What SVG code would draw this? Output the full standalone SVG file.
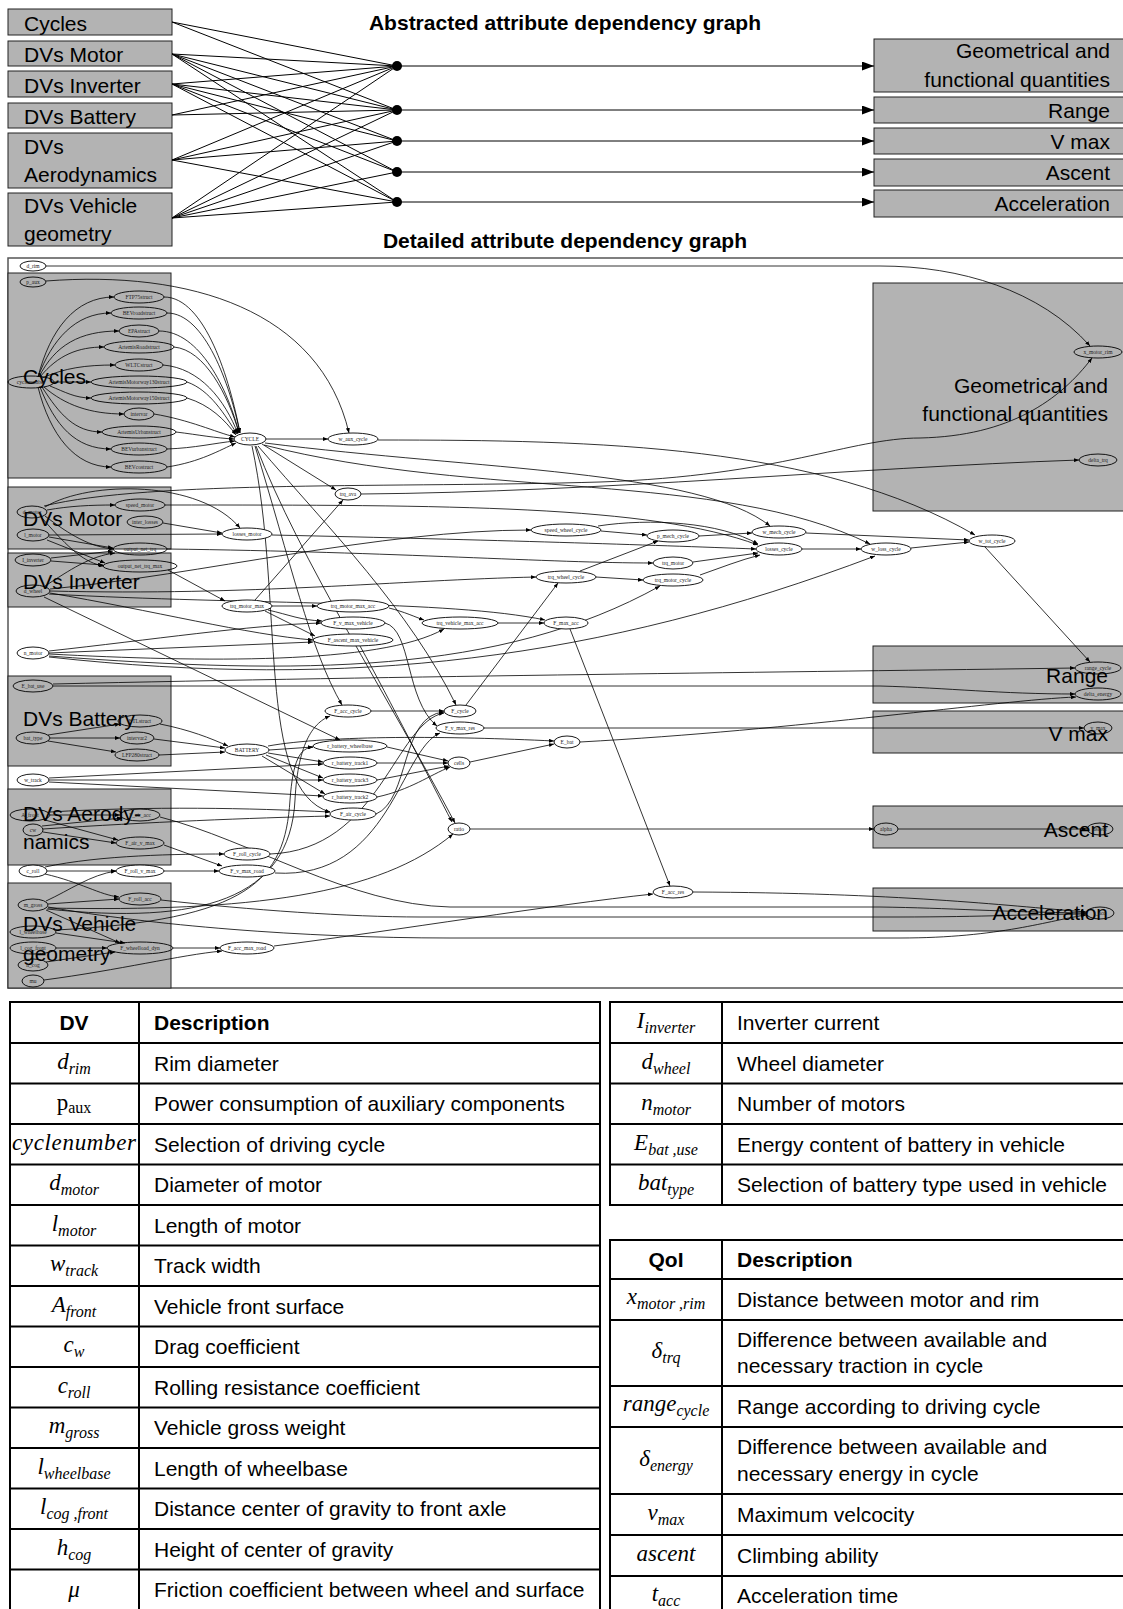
<svg xmlns="http://www.w3.org/2000/svg" width="1123" height="1609" viewBox="0 0 1123 1609">
<style>
.cl{fill:#b3b3b3;stroke:#222;stroke-width:1}
.big{font-family:"Liberation Sans",Arial,sans-serif;font-size:21px;fill:#000}
.bigr{font-family:"Liberation Sans",Arial,sans-serif;font-size:21px;fill:#000;text-anchor:end}
.ttl{font-family:"Liberation Sans",Arial,sans-serif;font-size:21px;font-weight:bold;text-anchor:middle}
.nd ellipse{fill:#fff;stroke:#000;stroke-width:0.9}
.nd.c ellipse{fill:none}
.nd text{font-family:"Liberation Serif","Times New Roman",serif;font-size:5.5px;text-anchor:middle;fill:#222}
.e path{fill:none;stroke:#000;stroke-width:0.8;marker-end:url(#a)}
.ab path{fill:none;stroke:#000;stroke-width:1}
.tb{fill:none;stroke:#000;stroke-width:2}
.tl{stroke:#000;stroke-width:2}
.tx{font-family:"Liberation Sans",Arial,sans-serif;font-size:21px;fill:#000}
.th{font-family:"Liberation Sans",Arial,sans-serif;font-size:21px;font-weight:bold;fill:#000}
.m{font-family:"Liberation Serif","Times New Roman",serif;font-size:23px;font-style:italic;text-anchor:middle;fill:#000}
.mu{font-family:"Liberation Serif","Times New Roman",serif;font-size:23px;font-style:normal;text-anchor:middle;fill:#000}
.s{font-size:16px}
</style>
<defs>
<marker id="a" markerWidth="5" markerHeight="4" refX="5" refY="2" orient="auto" markerUnits="userSpaceOnUse"><path d="M0,0 L5,2 L0,4 z" fill="#000"/></marker>
<marker id="A" markerWidth="12" markerHeight="9" refX="12" refY="4.5" orient="auto" markerUnits="userSpaceOnUse"><path d="M0,0 L12,4.5 L0,9 z" fill="#000"/></marker>
</defs>
<rect width="1123" height="1609" fill="#fff"/>

<!-- Abstract graph -->
<text class="ttl" x="565" y="30">Abstracted attribute dependency graph</text>
<g id="a_cycles"><rect class="cl" x="8" y="9" width="164" height="26"/><text class="big" x="24" y="31">Cycles</text></g>
<g id="a_motor"><rect class="cl" x="8" y="41" width="164" height="25"/><text class="big" x="24" y="62">DVs Motor</text></g>
<g id="a_inverter"><rect class="cl" x="8" y="71" width="164" height="26"/><text class="big" x="24" y="93">DVs Inverter</text></g>
<g id="a_battery"><rect class="cl" x="8" y="103" width="164" height="25"/><text class="big" x="24" y="124">DVs Battery</text></g>
<g id="a_aero"><rect class="cl" x="8" y="133" width="164" height="55"/><text class="big" x="24" y="154">DVs</text><text class="big" x="24" y="182">Aerodynamics</text></g>
<g id="a_geom"><rect class="cl" x="8" y="193" width="164" height="53"/><text class="big" x="24" y="213">DVs Vehicle</text><text class="big" x="24" y="241">geometry</text></g>
<g id="a_geo_out"><rect class="cl" x="874" y="39" width="255" height="53"/><text class="bigr" x="1110" y="58">Geometrical and</text><text class="bigr" x="1110" y="87">functional quantities</text></g>
<g id="a_range"><rect class="cl" x="874" y="97" width="255" height="26"/><text class="bigr" x="1110" y="118">Range</text></g>
<g id="a_vmax"><rect class="cl" x="874" y="128" width="255" height="26"/><text class="bigr" x="1110" y="149">V max</text></g>
<g id="a_ascent"><rect class="cl" x="874" y="159" width="255" height="27"/><text class="bigr" x="1110" y="180">Ascent</text></g>
<g id="a_accel"><rect class="cl" x="874" y="190" width="255" height="27"/><text class="bigr" x="1110" y="211">Acceleration</text></g>
<g id="a_dots">
<circle cx="397" cy="66" r="5"/><circle cx="397" cy="110" r="5"/><circle cx="397" cy="141" r="5"/><circle cx="397" cy="172" r="5"/><circle cx="397" cy="202" r="5"/>
</g>
<g id="abstract_connectors" class="ab">
<path d="M172,22 L397,66"/><path d="M172,22 L397,110"/>
<path d="M172,54 L397,66"/><path d="M172,54 L397,110"/><path d="M172,54 L397,141"/><path d="M172,54 L397,172"/><path d="M172,54 L397,202"/>
<path d="M172,84 L397,66"/><path d="M172,84 L397,110"/><path d="M172,84 L397,141"/><path d="M172,84 L397,172"/><path d="M172,84 L397,202"/>
<path d="M172,115 L397,66"/><path d="M172,115 L397,110"/>
<path d="M172,160 L397,66"/><path d="M172,160 L397,110"/><path d="M172,160 L397,141"/><path d="M172,160 L397,202"/>
<path d="M172,218 L397,66"/><path d="M172,218 L397,110"/><path d="M172,218 L397,141"/><path d="M172,218 L397,172"/><path d="M172,218 L397,202"/>
<path d="M397,66 L874,66" marker-end="url(#A)"/><path d="M397,110 L874,110" marker-end="url(#A)"/><path d="M397,141 L874,141" marker-end="url(#A)"/><path d="M397,172 L874,172" marker-end="url(#A)"/><path d="M397,202 L874,202" marker-end="url(#A)"/>
</g>

<!-- Detailed graph -->
<text class="ttl" x="565" y="248">Detailed attribute dependency graph</text>
<rect x="8" y="258" width="1130" height="730" fill="none" stroke="#555" stroke-width="1.5"/>
<g id="clusters">
<rect class="cl" x="8" y="273" width="163" height="205"/>
<rect class="cl" x="8" y="487" width="163" height="62"/>
<rect class="cl" x="8" y="553" width="163" height="54"/>
<rect class="cl" x="8" y="676" width="163" height="90"/>
<rect class="cl" x="8" y="789" width="163" height="76"/>
<rect class="cl" x="8" y="883" width="163" height="105"/>
<rect class="cl" x="873" y="283" width="260" height="228"/>
<rect class="cl" x="873" y="646" width="260" height="57"/>
<rect class="cl" x="873" y="711" width="260" height="42"/>
<rect class="cl" x="873" y="806" width="260" height="42"/>
<rect class="cl" x="873" y="888" width="260" height="43"/>
<text class="big" x="23" y="384">Cycles</text>
<text class="big" x="23" y="526">DVs Motor</text>
<text class="big" x="23" y="589">DVs Inverter</text>
<text class="big" x="23" y="726">DVs Battery</text>
<text class="big" x="23" y="821">DVs Aerody-</text>
<text class="big" x="23" y="849">namics</text>
<text class="big" x="23" y="931">DVs Vehicle</text>
<text class="big" x="23" y="961">geometry</text>
<text class="bigr" x="1108" y="393">Geometrical and</text>
<text class="bigr" x="1108" y="421">functional quantities</text>
<text class="bigr" x="1108" y="683">Range</text>
<text class="bigr" x="1108" y="741">V max</text>
<text class="bigr" x="1108" y="837">Ascent</text>
<text class="bigr" x="1108" y="920">Acceleration</text>
</g>

<g id="connectors" class="e">
<path d="M46,266 L880,266 C960,266 1040,290 1090,346"/>
<path d="M46,281 C190,270 320,310 349,433"/>
<path d="M38,377 C50,330 75,297 114,297"/>
<path d="M38,377 C52,340 75,313 111,313"/>
<path d="M39,377 C55,345 80,331 119,331"/>
<path d="M40,377 C58,355 78,347 104,347"/>
<path d="M42,378 C65,368 85,365 115,365"/>
<path d="M54,382 L91,382"/>
<path d="M50,386 C65,392 75,398 91,398"/>
<path d="M44,387 C65,405 90,414 124,414"/>
<path d="M42,387 C60,415 75,432 102,432"/>
<path d="M40,387 C55,425 75,449 111,449"/>
<path d="M38,387 C50,435 75,467 111,467"/>
<path d="M164,297 C205,297 230,380 240,433"/>
<path d="M167,313 C205,313 230,385 240,433"/>
<path d="M159,331 C200,331 228,390 239,433"/>
<path d="M174,347 C205,350 228,395 239,433"/>
<path d="M163,365 C200,368 225,400 238,434"/>
<path d="M187,382 C210,390 225,415 237,434"/>
<path d="M187,398 C210,405 225,420 236,435"/>
<path d="M154,414 C190,420 215,432 235,437"/>
<path d="M176,432 C200,435 215,438 234,439"/>
<path d="M167,449 C195,448 215,443 235,441"/>
<path d="M167,467 C200,462 220,450 236,443"/>
<path d="M266,439 L328,439"/>
<path d="M262,444 L336,490"/>
<path d="M265,443 C480,470 700,470 770,526"/>
<path d="M264,445 C480,500 720,470 870,544"/>
<path d="M378,440 C600,440 820,445 975,535"/>
<path d="M255,446 C290,560 310,650 342,705"/>
<path d="M258,446 C330,530 410,610 456,705"/>
<path d="M256,446 C300,560 390,700 455,823"/>
<path d="M252,446 C285,600 255,790 330,812"/>
<path d="M361,494 C600,492 850,468 1079,460"/>
<path d="M255,600 L343,500"/>
<path d="M47,510 C70,506 90,505 115,505"/>
<path d="M45,507 C90,480 200,480 240,528"/>
<path d="M45,516 C70,535 90,547 114,549"/>
<path d="M42,518 C70,550 85,563 104,566"/>
<path d="M44,506 C150,480 400,488 600,482 C780,476 850,438 920,438 C1010,436 1060,400 1092,358"/>
<path d="M165,505 C450,505 650,505 758,545"/>
<path d="M163,523 L222,533"/>
<path d="M49,535 L222,534"/>
<path d="M49,537 L113,548"/>
<path d="M47,540 L105,563"/>
<path d="M272,535 C500,540 650,545 756,549"/>
<path d="M51,558 L113,551"/>
<path d="M51,561 L103,565"/>
<path d="M45,586 C70,570 90,556 115,553"/>
<path d="M167,549 C400,552 550,563 653,563"/>
<path d="M168,570 L225,601"/>
<path d="M272,606 L317,606"/>
<path d="M268,610 C290,615 300,620 322,621"/>
<path d="M265,611 L315,636"/>
<path d="M50,593 C150,610 250,635 313,640"/>
<path d="M49,651 C150,640 250,625 321,623"/>
<path d="M49,653 L313,642"/>
<path d="M50,591 C250,596 400,580 536,577"/>
<path d="M44,597 L340,740"/>
<path d="M50,589 C200,575 380,530 531,530"/>
<path d="M49,594 C250,605 450,600 545,620"/>
<path d="M49,656 C300,675 500,675 660,586"/>
<path d="M49,657 C350,690 600,660 875,556"/>
<path d="M49,654 C200,662 380,665 444,629"/>
<path d="M53,684 C400,676 800,672 1075,668"/>
<path d="M53,686 L880,686 C950,688 1000,694 1075,694"/>
<path d="M580,742 C800,730 1000,700 1076,697"/>
<path d="M484,728 L1084,728"/>
<path d="M601,531 L647,535"/>
<path d="M598,526 C650,518 720,522 758,544"/>
<path d="M699,536 L752,533"/>
<path d="M806,533 L969,540"/>
<path d="M802,549 L861,549"/>
<path d="M911,548 L969,542"/>
<path d="M693,562 L758,553"/>
<path d="M700,575 C720,568 740,560 760,555"/>
<path d="M596,577 L643,580"/>
<path d="M580,571 L658,541"/>
<path d="M985,547 L1090,662"/>
<path d="M466,705 L558,583"/>
<path d="M389,608 C405,612 415,617 424,620"/>
<path d="M498,623 L544,623"/>
<path d="M570,629 L670,886"/>
<path d="M274,946 C400,930 550,905 653,894"/>
<path d="M693,892 C900,893 1000,905 1086,912"/>
<path d="M160,817 C250,840 350,905 450,907 L880,907 C950,908 1000,912 1086,913"/>
<path d="M161,900 C250,910 350,917 420,917 L900,917 C980,917 1040,914 1086,914"/>
<path d="M48,907 C150,925 300,938 450,938 L900,938 C1000,938 1050,920 1086,915"/>
<path d="M46,901 C70,890 90,875 116,871"/>
<path d="M48,904 L119,899"/>
<path d="M46,910 L120,943"/>
<path d="M48,908 C250,912 380,895 453,834"/>
<path d="M47,909 C200,925 290,900 295,800 C298,740 315,722 330,716"/>
<path d="M371,711 L444,711"/>
<path d="M376,814 C410,800 400,715 444,712"/>
<path d="M270,854 C380,850 395,722 444,713"/>
<path d="M275,873 C390,880 400,750 440,733"/>
<path d="M164,845 L222,866"/>
<path d="M164,871 L219,871"/>
<path d="M47,871 L116,871"/>
<path d="M45,867 C100,855 180,854 224,854"/>
<path d="M45,874 C80,882 100,895 119,897"/>
<path d="M50,815 L120,815"/>
<path d="M45,820 L118,840"/>
<path d="M50,812 C150,806 250,808 330,812"/>
<path d="M43,829 C150,822 250,818 330,816"/>
<path d="M43,832 L116,843"/>
<path d="M42,826 L122,818"/>
<path d="M385,623 C412,630 405,700 437,726"/>
<path d="M360,646 C390,700 430,780 452,822"/>
<path d="M470,829 L874,829"/>
<path d="M898,829 L1087,829"/>
<path d="M269,750 L313,747"/>
<path d="M268,753 L323,762"/>
<path d="M266,755 L323,778"/>
<path d="M262,756 L325,794"/>
<path d="M268,746 C330,735 450,736 554,741"/>
<path d="M387,747 L448,761"/>
<path d="M377,763 L448,763"/>
<path d="M377,780 L449,766"/>
<path d="M377,797 C410,790 430,775 450,767"/>
<path d="M49,778 L323,764"/>
<path d="M49,780 L323,780"/>
<path d="M49,782 L323,796"/>
<path d="M470,762 L554,744"/>
<path d="M160,724 C190,730 210,738 228,746"/>
<path d="M154,739 L225,748"/>
<path d="M159,755 L225,752"/>
<path d="M48,735 L120,724"/>
<path d="M50,738 L120,738"/>
<path d="M48,741 L116,752"/>
<path d="M173,948 L220,948"/>
<path d="M56,933 L125,943"/>
<path d="M56,948 L107,948"/>
<path d="M46,962 L115,952"/>
<path d="M44,980 C120,970 180,955 222,951"/>
<path d="M56,930 C250,920 285,880 290,800 C293,760 300,748 313,747"/>
</g>

<g id="nodes">
<g id="n_d_rim" class="nd"><ellipse cx="33" cy="266" rx="13" ry="5"/><text x="33" y="268">d_rim</text></g>
<g id="n_p_aux" class="nd c"><ellipse cx="33" cy="282" rx="13" ry="5"/><text x="33" y="284">p_aux</text></g>
<g id="n_cyclenumber" class="nd c"><ellipse cx="31" cy="382" rx="23" ry="6"/><text x="31" y="384">cyclenumber</text></g>
<g id="n_FTP75struct" class="nd c"><ellipse cx="139" cy="297" rx="25" ry="6"/><text x="139" y="299">FTP75struct</text></g>
<g id="n_BEVroadstruct" class="nd c"><ellipse cx="139" cy="313" rx="28" ry="6"/><text x="139" y="315">BEVroadstruct</text></g>
<g id="n_EPAstruct" class="nd c"><ellipse cx="139" cy="331" rx="20" ry="6"/><text x="139" y="333">EPAstruct</text></g>
<g id="n_ArtemisRoadstruct" class="nd c"><ellipse cx="139" cy="347" rx="35" ry="6"/><text x="139" y="349">ArtemisRoadstruct</text></g>
<g id="n_WLTCstruct" class="nd c"><ellipse cx="139" cy="365" rx="24" ry="6"/><text x="139" y="367">WLTCstruct</text></g>
<g id="n_AM130" class="nd c"><ellipse cx="139" cy="382" rx="48" ry="6"/><text x="139" y="384">ArtemisMotorway130struct</text></g>
<g id="n_AM150" class="nd c"><ellipse cx="139" cy="398" rx="48" ry="6"/><text x="139" y="400">ArtemisMotorway150struct</text></g>
<g id="n_intervar" class="nd c"><ellipse cx="139" cy="414" rx="15" ry="6"/><text x="139" y="416">intervar</text></g>
<g id="n_ArtemisUrbanstruct" class="nd c"><ellipse cx="139" cy="432" rx="37" ry="6"/><text x="139" y="434">ArtemisUrbanstruct</text></g>
<g id="n_BEVurbanstruct" class="nd c"><ellipse cx="139" cy="449" rx="28" ry="6"/><text x="139" y="451">BEVurbanstruct</text></g>
<g id="n_BEVcostruct" class="nd c"><ellipse cx="139" cy="467" rx="28" ry="6"/><text x="139" y="469">BEVcostruct</text></g>
<g id="n_CYCLE" class="nd"><ellipse cx="250" cy="439" rx="16" ry="6"/><text x="250" y="441">CYCLE</text></g>
<g id="n_w_aux_cycle" class="nd"><ellipse cx="353" cy="439" rx="25" ry="6"/><text x="353" y="441">w_aux_cycle</text></g>
<g id="n_trq_ava" class="nd"><ellipse cx="348" cy="494" rx="13" ry="6"/><text x="348" y="496">trq_ava</text></g>
<g id="n_d_motor" class="nd c"><ellipse cx="32" cy="512" rx="15" ry="6"/><text x="32" y="514">d_motor</text></g>
<g id="n_speed_motor" class="nd c"><ellipse cx="140" cy="505" rx="25" ry="6"/><text x="140" y="507">speed_motor</text></g>
<g id="n_inter_losses" class="nd c"><ellipse cx="145" cy="522" rx="18" ry="6"/><text x="145" y="524">inter_losses</text></g>
<g id="n_l_motor" class="nd c"><ellipse cx="33" cy="535" rx="16" ry="6"/><text x="33" y="537">l_motor</text></g>
<g id="n_output_net_trq" class="nd c"><ellipse cx="140" cy="549" rx="27" ry="6"/><text x="140" y="551">output_net_trq</text></g>
<g id="n_output_net_trq_max" class="nd c"><ellipse cx="140" cy="566" rx="37" ry="6"/><text x="140" y="568">output_net_trq_max</text></g>
<g id="n_losses_motor" class="nd"><ellipse cx="247" cy="534" rx="25" ry="6"/><text x="247" y="536">losses_motor</text></g>
<g id="n_l_inverter" class="nd c"><ellipse cx="33" cy="560" rx="18" ry="6"/><text x="33" y="562">I_inverter</text></g>
<g id="n_d_wheel" class="nd c"><ellipse cx="33" cy="591" rx="17" ry="6"/><text x="33" y="593">d_wheel</text></g>
<g id="n_trq_motor_max" class="nd"><ellipse cx="247" cy="606" rx="25" ry="6"/><text x="247" y="608">trq_motor_max</text></g>
<g id="n_trq_motor_max_acc" class="nd"><ellipse cx="353" cy="606" rx="36" ry="6"/><text x="353" y="608">trq_motor_max_acc</text></g>
<g id="n_F_v_max_vehicle" class="nd"><ellipse cx="353" cy="623" rx="32" ry="6"/><text x="353" y="625">F_v_max_vehicle</text></g>
<g id="n_F_ascent_max_vehicle" class="nd"><ellipse cx="353" cy="640" rx="40" ry="6"/><text x="353" y="642">F_ascent_max_vehicle</text></g>
<g id="n_n_motor" class="nd"><ellipse cx="33" cy="653" rx="16" ry="6"/><text x="33" y="655">n_motor</text></g>
<g id="n_E_bat_use" class="nd c"><ellipse cx="33" cy="686" rx="20" ry="6"/><text x="33" y="688">E_bat_use</text></g>
<g id="n_F_acc_cycle" class="nd"><ellipse cx="348" cy="711" rx="23" ry="6"/><text x="348" y="713">F_acc_cycle</text></g>
<g id="n_ETLstruct" class="nd c"><ellipse cx="140" cy="721" rx="22" ry="6"/><text x="140" y="723">ETLstruct</text></g>
<g id="n_bat_type" class="nd c"><ellipse cx="33" cy="738" rx="17" ry="6"/><text x="33" y="740">bat_type</text></g>
<g id="n_intervar2" class="nd c"><ellipse cx="137" cy="738" rx="17" ry="6"/><text x="137" y="740">intervar2</text></g>
<g id="n_LFP280struct" class="nd c"><ellipse cx="137" cy="755" rx="22" ry="6"/><text x="137" y="757">LFP280struct</text></g>
<g id="n_BATTERY" class="nd"><ellipse cx="247" cy="750" rx="22" ry="6"/><text x="247" y="752">BATTERY</text></g>
<g id="n_r_battery_wheelbase" class="nd"><ellipse cx="350" cy="746" rx="37" ry="6"/><text x="350" y="748">r_battery_wheelbase</text></g>
<g id="n_r_battery_track1" class="nd"><ellipse cx="350" cy="763" rx="27" ry="6"/><text x="350" y="765">r_battery_track1</text></g>
<g id="n_r_battery_track3" class="nd"><ellipse cx="350" cy="780" rx="27" ry="6"/><text x="350" y="782">r_battery_track3</text></g>
<g id="n_r_battery_track2" class="nd"><ellipse cx="350" cy="797" rx="27" ry="6"/><text x="350" y="799">r_battery_track2</text></g>
<g id="n_F_air_cycle" class="nd"><ellipse cx="353" cy="814" rx="23" ry="6"/><text x="353" y="816">F_air_cycle</text></g>
<g id="n_w_track" class="nd"><ellipse cx="33" cy="780" rx="16" ry="6"/><text x="33" y="782">w_track</text></g>
<g id="n_A_front" class="nd c"><ellipse cx="30" cy="815" rx="20" ry="6"/><text x="30" y="817">A_front</text></g>
<g id="n_F_air_acc" class="nd c"><ellipse cx="140" cy="815" rx="20" ry="6"/><text x="140" y="817">F_air_acc</text></g>
<g id="n_cw" class="nd c"><ellipse cx="33" cy="830" rx="10" ry="6"/><text x="33" y="832">cw</text></g>
<g id="n_F_air_v_max" class="nd c"><ellipse cx="140" cy="843" rx="24" ry="6"/><text x="140" y="845">F_air_v_max</text></g>
<g id="n_F_roll_cycle" class="nd"><ellipse cx="247" cy="854" rx="23" ry="6"/><text x="247" y="856">F_roll_cycle</text></g>
<g id="n_c_roll" class="nd"><ellipse cx="33" cy="871" rx="14" ry="6"/><text x="33" y="873">c_roll</text></g>
<g id="n_F_roll_v_max" class="nd"><ellipse cx="140" cy="871" rx="24" ry="6"/><text x="140" y="873">F_roll_v_max</text></g>
<g id="n_F_v_max_road" class="nd"><ellipse cx="247" cy="871" rx="28" ry="6"/><text x="247" y="873">F_v_max_road</text></g>
<g id="n_F_roll_acc" class="nd c"><ellipse cx="140" cy="899" rx="21" ry="6"/><text x="140" y="901">F_roll_acc</text></g>
<g id="n_m_gross" class="nd c"><ellipse cx="33" cy="905" rx="15" ry="6"/><text x="33" y="907">m_gross</text></g>
<g id="n_l_wheelbase" class="nd c"><ellipse cx="33" cy="932" rx="23" ry="6"/><text x="33" y="934">l_wheelbase</text></g>
<g id="n_l_cog_front" class="nd c"><ellipse cx="33" cy="948" rx="23" ry="6"/><text x="33" y="950">l_cog_front</text></g>
<g id="n_F_wheelload_dyn" class="nd c"><ellipse cx="140" cy="948" rx="33" ry="6"/><text x="140" y="950">F_wheelload_dyn</text></g>
<g id="n_F_acc_max_road" class="nd"><ellipse cx="247" cy="948" rx="27" ry="6"/><text x="247" y="950">F_acc_max_road</text></g>
<g id="n_h_cog" class="nd c"><ellipse cx="33" cy="965" rx="15" ry="6"/><text x="33" y="967">h_cog</text></g>
<g id="n_mu" class="nd c"><ellipse cx="33" cy="981" rx="11" ry="6"/><text x="33" y="983">mu</text></g>
<g id="n_speed_wheel_cycle" class="nd"><ellipse cx="566" cy="530" rx="35" ry="6"/><text x="566" y="532">speed_wheel_cycle</text></g>
<g id="n_p_mech_cycle" class="nd"><ellipse cx="673" cy="536" rx="26" ry="6"/><text x="673" y="538">p_mech_cycle</text></g>
<g id="n_w_mech_cycle" class="nd"><ellipse cx="779" cy="532" rx="27" ry="6"/><text x="779" y="534">w_mech_cycle</text></g>
<g id="n_losses_cycle" class="nd"><ellipse cx="779" cy="549" rx="23" ry="6"/><text x="779" y="551">losses_cycle</text></g>
<g id="n_trq_motor" class="nd"><ellipse cx="673" cy="563" rx="20" ry="6"/><text x="673" y="565">trq_motor</text></g>
<g id="n_trq_wheel_cycle" class="nd"><ellipse cx="566" cy="577" rx="30" ry="6"/><text x="566" y="579">trq_wheel_cycle</text></g>
<g id="n_trq_motor_cycle" class="nd"><ellipse cx="673" cy="580" rx="30" ry="6"/><text x="673" y="582">trq_motor_cycle</text></g>
<g id="n_trq_vehicle_max_acc" class="nd"><ellipse cx="460" cy="623" rx="38" ry="6"/><text x="460" y="625">trq_vehicle_max_acc</text></g>
<g id="n_F_max_acc" class="nd"><ellipse cx="566" cy="623" rx="22" ry="6"/><text x="566" y="625">F_max_acc</text></g>
<g id="n_F_cycle" class="nd"><ellipse cx="460" cy="711" rx="16" ry="6"/><text x="460" y="713">F_cycle</text></g>
<g id="n_F_v_max_res" class="nd"><ellipse cx="460" cy="728" rx="24" ry="6"/><text x="460" y="730">F_v_max_res</text></g>
<g id="n_E_bat" class="nd"><ellipse cx="567" cy="742" rx="13" ry="6"/><text x="567" y="744">E_bat</text></g>
<g id="n_cells" class="nd"><ellipse cx="459" cy="763" rx="11" ry="6"/><text x="459" y="765">cells</text></g>
<g id="n_ratio" class="nd"><ellipse cx="459" cy="829" rx="11" ry="6"/><text x="459" y="831">ratio</text></g>
<g id="n_F_acc_res" class="nd"><ellipse cx="673" cy="892" rx="20" ry="6"/><text x="673" y="894">F_acc_res</text></g>
<g id="n_w_loss_cycle" class="nd"><ellipse cx="886" cy="549" rx="25" ry="6"/><text x="886" y="551">w_loss_cycle</text></g>
<g id="n_w_tot_cycle" class="nd"><ellipse cx="992" cy="541" rx="23" ry="6"/><text x="992" y="543">w_tot_cycle</text></g>
<g id="n_x_motor_rim" class="nd c"><ellipse cx="1098" cy="352" rx="24" ry="6"/><text x="1098" y="354">x_motor_rim</text></g>
<g id="n_delta_trq" class="nd c"><ellipse cx="1098" cy="460" rx="19" ry="6"/><text x="1098" y="462">delta_trq</text></g>
<g id="n_range_cycle" class="nd c"><ellipse cx="1098" cy="668" rx="23" ry="6"/><text x="1098" y="670">range_cycle</text></g>
<g id="n_delta_energy" class="nd c"><ellipse cx="1098" cy="694" rx="23" ry="6"/><text x="1098" y="696">delta_energy</text></g>
<g id="n_v_max" class="nd c"><ellipse cx="1098" cy="728" rx="14" ry="6"/><text x="1098" y="730">v_max</text></g>
<g id="n_alpha" class="nd c"><ellipse cx="886" cy="829" rx="12" ry="6"/><text x="886" y="831">alpha</text></g>
<g id="n_ascent" class="nd c"><ellipse cx="1100" cy="829" rx="13" ry="6"/><text x="1100" y="831">ascent</text></g>
<g id="n_t_acc" class="nd c"><ellipse cx="1100" cy="913" rx="14" ry="6"/><text x="1100" y="915">t_acc</text></g>
</g>

<!-- DV table -->
<g id="table_dv">
<rect class="tb" x="10" y="1002" width="590" height="610"/>
<line class="tl" x1="139" y1="1002" x2="139" y2="1612"/>
<line class="tl" x1="10" y1="1043" x2="600" y2="1043"/>
<line class="tl" x1="10" y1="1083.5" x2="600" y2="1083.5"/>
<line class="tl" x1="10" y1="1124" x2="600" y2="1124"/>
<line class="tl" x1="10" y1="1164.5" x2="600" y2="1164.5"/>
<line class="tl" x1="10" y1="1205" x2="600" y2="1205"/>
<line class="tl" x1="10" y1="1245.5" x2="600" y2="1245.5"/>
<line class="tl" x1="10" y1="1286" x2="600" y2="1286"/>
<line class="tl" x1="10" y1="1326.5" x2="600" y2="1326.5"/>
<line class="tl" x1="10" y1="1367" x2="600" y2="1367"/>
<line class="tl" x1="10" y1="1407.5" x2="600" y2="1407.5"/>
<line class="tl" x1="10" y1="1448" x2="600" y2="1448"/>
<line class="tl" x1="10" y1="1488.5" x2="600" y2="1488.5"/>
<line class="tl" x1="10" y1="1529" x2="600" y2="1529"/>
<line class="tl" x1="10" y1="1569.5" x2="600" y2="1569.5"/>
<text class="th" x="74" y="1030" text-anchor="middle">DV</text>
<text class="th" x="154" y="1030">Description</text>
<text class="m" x="74" y="1069">d<tspan class="s" dy="5">rim</tspan></text>
<text class="mu" x="74" y="1110">p<tspan class="s" dy="3">aux</tspan></text>
<text class="m" x="74" y="1150" textLength="124">cyclenumber</text>
<text class="m" x="74" y="1190">d<tspan class="s" dy="5">motor</tspan></text>
<text class="m" x="74" y="1231">l<tspan class="s" dy="5">motor</tspan></text>
<text class="m" x="74" y="1271">w<tspan class="s" dy="5">track</tspan></text>
<text class="m" x="74" y="1312">A<tspan class="s" dy="5">front</tspan></text>
<text class="m" x="74" y="1352">c<tspan class="s" dy="5">w</tspan></text>
<text class="m" x="74" y="1393">c<tspan class="s" dy="5">roll</tspan></text>
<text class="m" x="74" y="1433">m<tspan class="s" dy="5">gross</tspan></text>
<text class="m" x="74" y="1474">l<tspan class="s" dy="5">wheelbase</tspan></text>
<text class="m" x="74" y="1514">l<tspan class="s" dy="5">cog ,front</tspan></text>
<text class="m" x="74" y="1555">h<tspan class="s" dy="5">cog</tspan></text>
<text class="m" x="74" y="1597">μ</text>
<text class="tx" x="154" y="1071">Rim diameter</text>
<text class="tx" x="154" y="1111">Power consumption of auxiliary components</text>
<text class="tx" x="154" y="1152">Selection of driving cycle</text>
<text class="tx" x="154" y="1192">Diameter of motor</text>
<text class="tx" x="154" y="1233">Length of motor</text>
<text class="tx" x="154" y="1273">Track width</text>
<text class="tx" x="154" y="1314">Vehicle front surface</text>
<text class="tx" x="154" y="1354">Drag coefficient</text>
<text class="tx" x="154" y="1395">Rolling resistance coefficient</text>
<text class="tx" x="154" y="1435">Vehicle gross weight</text>
<text class="tx" x="154" y="1476">Length of wheelbase</text>
<text class="tx" x="154" y="1516">Distance center of gravity to front axle</text>
<text class="tx" x="154" y="1557">Height of center of gravity</text>
<text class="tx" x="154" y="1597">Friction coefficient between wheel and surface</text>
</g>

<g id="table_dv2">
<rect class="tb" x="610" y="1002" width="530" height="203"/>
<line class="tl" x1="722" y1="1002" x2="722" y2="1205"/>
<line class="tl" x1="610" y1="1043" x2="1140" y2="1043"/>
<line class="tl" x1="610" y1="1083.5" x2="1140" y2="1083.5"/>
<line class="tl" x1="610" y1="1124" x2="1140" y2="1124"/>
<line class="tl" x1="610" y1="1164.5" x2="1140" y2="1164.5"/>
<text class="m" x="666" y="1028">I<tspan class="s" dy="5">inverter</tspan></text>
<text class="m" x="666" y="1069">d<tspan class="s" dy="5">wheel</tspan></text>
<text class="m" x="666" y="1110">n<tspan class="s" dy="5">motor</tspan></text>
<text class="m" x="666" y="1150">E<tspan class="s" dy="5">bat ,use</tspan></text>
<text class="m" x="666" y="1190">bat<tspan class="s" dy="5">type</tspan></text>
<text class="tx" x="737" y="1030">Inverter current</text>
<text class="tx" x="737" y="1071">Wheel diameter</text>
<text class="tx" x="737" y="1111">Number of motors</text>
<text class="tx" x="737" y="1152">Energy content of battery in vehicle</text>
<text class="tx" x="737" y="1192">Selection of battery type used in vehicle</text>
</g>

<g id="table_qoi">
<rect class="tb" x="610" y="1240" width="530" height="380"/>
<line class="tl" x1="722" y1="1240" x2="722" y2="1620"/>
<line class="tl" x1="610" y1="1279" x2="1140" y2="1279"/>
<line class="tl" x1="610" y1="1320" x2="1140" y2="1320"/>
<line class="tl" x1="610" y1="1386" x2="1140" y2="1386"/>
<line class="tl" x1="610" y1="1427" x2="1140" y2="1427"/>
<line class="tl" x1="610" y1="1494" x2="1140" y2="1494"/>
<line class="tl" x1="610" y1="1535" x2="1140" y2="1535"/>
<line class="tl" x1="610" y1="1576" x2="1140" y2="1576"/>
<text class="th" x="666" y="1267" text-anchor="middle">QoI</text>
<text class="th" x="737" y="1267">Description</text>
<text class="m" x="666" y="1304">x<tspan class="s" dy="5">motor ,rim</tspan></text>
<text class="m" x="666" y="1358">δ<tspan class="s" dy="5">trq</tspan></text>
<text class="m" x="666" y="1411">range<tspan class="s" dy="5">cycle</tspan></text>
<text class="m" x="666" y="1466">δ<tspan class="s" dy="5">energy</tspan></text>
<text class="m" x="666" y="1520">v<tspan class="s" dy="5">max</tspan></text>
<text class="m" x="666" y="1561">ascent</text>
<text class="m" x="666" y="1601">t<tspan class="s" dy="5">acc</tspan></text>
<text class="tx" x="737" y="1307">Distance between motor and rim</text>
<text class="tx" x="737" y="1347">Difference between available and</text>
<text class="tx" x="737" y="1373">necessary traction in cycle</text>
<text class="tx" x="737" y="1414">Range according to driving cycle</text>
<text class="tx" x="737" y="1454">Difference between available and</text>
<text class="tx" x="737" y="1481">necessary energy in cycle</text>
<text class="tx" x="737" y="1522">Maximum velcocity</text>
<text class="tx" x="737" y="1563">Climbing ability</text>
<text class="tx" x="737" y="1603">Acceleration time</text>
</g>
</svg>
